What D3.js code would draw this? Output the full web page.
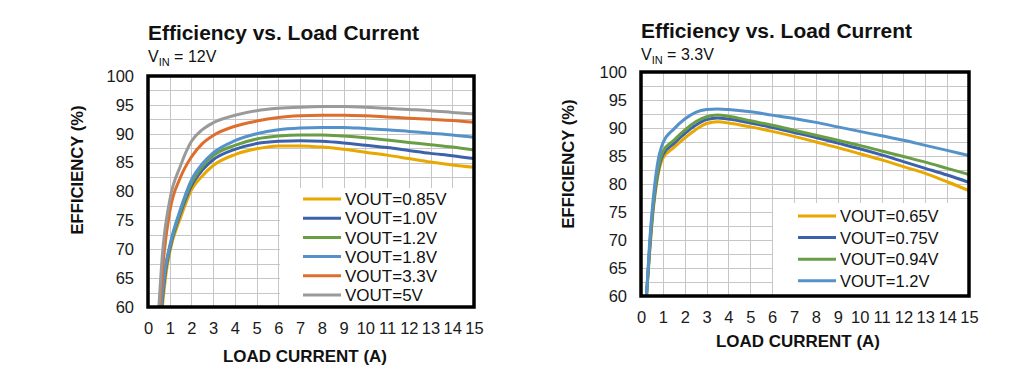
<!DOCTYPE html>
<html><head><meta charset="utf-8">
<script src="https://cdn.jsdelivr.net/npm/d3@7"></script>
<style>
html,body{margin:0;padding:0;background:#fff;}
svg{display:block;font-family:"Liberation Sans",Arial,sans-serif;}
</style></head>
<body>
<svg id="c" width="1023" height="386"></svg>
<script>
// ---------- DATA ----------
const xTicks = d3.range(0, 16, 1);
const yTicks = [60, 65, 70, 75, 80, 85, 90, 95, 100];

// Left chart, VIN = 12V
const leftNames = ["VOUT=0.85V", "VOUT=1.0V", "VOUT=1.2V", "VOUT=1.8V", "VOUT=3.3V", "VOUT=5V"];
const leftColors = ["#E8A800", "#3D62AC", "#6A9E45", "#5592CA", "#DE6E2E", "#9A9A9A"];
const leftCurrent = [1, 1.5, 2, 2.5, 3, 4, 5, 6, 7, 8, 9, 10, 11, 12, 13, 14, 15];
const leftStartI = [[0.66, 0.82], [0.63, 0.8], [0.6, 0.78], [0.6, 0.78], [0.55, 0.72], [0.5, 0.66]];
const leftStartV = [[60, 65.5], [60, 66], [60, 66.2], [60, 66.4], [60, 68.5], [60, 69]];
const eff12_085 = [69.5, 75.5, 80.3, 82.7, 84.5, 86.4, 87.4, 87.9, 87.9, 87.7, 87.3, 86.8, 86.3, 85.7, 85.1, 84.6, 84.2];
const eff12_100 = [70.0, 76.3, 81.0, 83.7, 85.5, 87.3, 88.3, 88.7, 88.8, 88.7, 88.4, 88.0, 87.6, 87.1, 86.6, 86.2, 85.7];
const eff12_120 = [70.3, 76.7, 81.5, 84.3, 86.2, 88.0, 89.1, 89.6, 89.8, 89.8, 89.6, 89.3, 88.9, 88.5, 88.1, 87.7, 87.2];
const eff12_180 = [70.6, 77.0, 82.0, 84.8, 86.7, 88.8, 90.0, 90.7, 91.0, 91.1, 91.1, 90.9, 90.7, 90.4, 90.1, 89.8, 89.4];
const eff12_330 = [76.5, 82.5, 86.0, 88.3, 89.7, 91.3, 92.2, 92.8, 93.1, 93.2, 93.2, 93.1, 92.9, 92.7, 92.5, 92.3, 92.0];
const eff12_500 = [78.5, 84.5, 88.7, 90.7, 91.9, 93.2, 94.0, 94.4, 94.6, 94.7, 94.7, 94.6, 94.4, 94.2, 94.0, 93.7, 93.4];

// Right chart, VIN = 3.3V
const rightNames = ["VOUT=0.65V", "VOUT=0.75V", "VOUT=0.94V", "VOUT=1.2V"];
const rightColors = ["#E8A800", "#3D62AC", "#6A9E45", "#5592CA"];
const rightCurrent = [0.25, 0.4, 0.55, 0.75, 1, 1.5, 2, 2.5, 3, 3.5, 4, 5, 6, 7, 8, 9, 10, 11, 12, 13, 14, 15];
const eff33_065 = [60, 68.0, 75.0, 81.0, 84.6, 86.5, 88.2, 89.7, 90.8, 91.1, 90.9, 90.2, 89.4, 88.5, 87.5, 86.5, 85.4, 84.3, 83.1, 81.9, 80.4, 78.8];
const eff33_075 = [60, 68.5, 75.5, 81.5, 85.2, 87.2, 89.0, 90.5, 91.5, 91.8, 91.6, 90.9, 90.1, 89.2, 88.3, 87.3, 86.3, 85.2, 84.0, 82.8, 81.6, 80.3];
const eff33_094 = [60, 69.0, 76.0, 82.0, 85.8, 87.8, 89.6, 91.1, 92.0, 92.3, 92.1, 91.3, 90.5, 89.6, 88.7, 87.8, 86.9, 85.9, 84.9, 83.9, 82.8, 81.7];
const eff33_120 = [60, 70.0, 77.0, 83.5, 87.3, 89.8, 91.6, 92.8, 93.3, 93.4, 93.3, 92.9, 92.3, 91.7, 91.0, 90.2, 89.4, 88.6, 87.8, 86.9, 86.0, 85.1];

// ---------- BUILD SERIES ----------
const leftEff = [eff12_085, eff12_100, eff12_120, eff12_180, eff12_330, eff12_500];
const leftSeries = leftEff.map((vals, k) => ({
  name: leftNames[k], color: leftColors[k],
  pts: leftStartI[k].map((x, j) => [x, leftStartV[k][j]]).concat(leftCurrent.map((x, j) => [x, vals[j]]))
}));
const rightEff = [eff33_065, eff33_075, eff33_094, eff33_120];
const rightSeries = rightEff.map((vals, k) => ({
  name: rightNames[k], color: rightColors[k],
  pts: rightCurrent.map((x, j) => [x, vals[j]])
}));

const svg = d3.select("#c");

function panel(cfg) {
  const g = svg.append("g");
  const x = d3.scaleLinear().domain([0, 15]).range([cfg.left, cfg.right]);
  const y = d3.scaleLinear().domain([60, 100]).range([cfg.bottom, cfg.top]);
  const w = cfg.right - cfg.left, h = cfg.bottom - cfg.top;

  // grid
  const grid = g.append("g").attr("stroke", "#c6c6c6").attr("stroke-width", 1);
  grid.selectAll("line.v").data(xTicks.slice(1, -1)).join("line")
    .attr("x1", d => Math.round(x(d)) + 0.5).attr("x2", d => Math.round(x(d)) + 0.5)
    .attr("y1", cfg.top).attr("y2", cfg.bottom);
  grid.selectAll("line.h").data(d3.range(62.5, 100, 2.5)).join("line")
    .attr("y1", d => Math.round(y(d)) + 0.5).attr("y2", d => Math.round(y(d)) + 0.5)
    .attr("x1", cfg.left).attr("x2", cfg.right);

  // legend box (white, no border)
  g.append("rect").attr("x", cfg.legX).attr("y", cfg.legY)
    .attr("width", cfg.right - cfg.legX).attr("height", cfg.bottom - cfg.legY).attr("fill", "#fff");

  // clip
  const cid = "clip" + cfg.id;
  svg.append("clipPath").attr("id", cid).append("rect")
    .attr("x", cfg.left).attr("y", cfg.top).attr("width", w).attr("height", h);

  const line = d3.line().x(d => x(d[0])).y(d => y(d[1])).curve(d3.curveMonotoneX);
  g.append("g").attr("clip-path", `url(#${cid})`)
    .selectAll("path").data(cfg.series).join("path")
    .attr("d", d => line(d.pts)).attr("fill", "none")
    .attr("stroke", d => d.color).attr("stroke-width", 3).attr("stroke-linejoin", "round");

  // border
  g.append("rect").attr("x", cfg.left).attr("y", cfg.top).attr("width", w).attr("height", h)
    .attr("fill", "none").attr("stroke", "#000").attr("stroke-width", 3.5);

  // axes (text only)
  const ya = d3.axisLeft(y).tickValues(yTicks).tickSize(0).tickPadding(cfg.left - cfg.yLabRight);
  const ygr = g.append("g").attr("transform", `translate(${cfg.left},0)`).call(ya);
  ygr.select(".domain").remove();
  ygr.selectAll("text").attr("font-size", 16.5).attr("fill", "#1a1a1a")
    .attr("font-family", "Liberation Sans, Arial, sans-serif");

  const xa = d3.axisBottom(x).tickValues(xTicks).tickSize(0).tickPadding(cfg.xLabPad);
  const xgr = g.append("g").attr("transform", `translate(0,${cfg.bottom})`).call(xa);
  xgr.select(".domain").remove();
  xgr.selectAll("text").attr("font-size", 16.5).attr("fill", "#1a1a1a")
    .attr("font-family", "Liberation Sans, Arial, sans-serif");

  // titles
  g.append("text").attr("x", cfg.left).attr("y", cfg.titleY)
    .attr("font-size", 19.5).attr("font-weight", "bold").attr("fill", "#111")
    .attr("textLength", 271).attr("lengthAdjust", "spacingAndGlyphs")
    .text("Efficiency vs. Load Current");
  const st = g.append("text").attr("x", cfg.left).attr("y", cfg.subY).attr("font-size", 16).attr("fill", "#111");
  st.append("tspan").text("V");
  st.append("tspan").attr("font-size", 11).attr("dy", 4).text("IN");
  st.append("tspan").attr("dy", -4).text(" = " + cfg.vin);

  g.append("text").attr("x", cfg.xTitleCX).attr("y", cfg.xTitleY)
    .attr("text-anchor", "middle").attr("font-size", 16.5).attr("font-weight", "bold").attr("fill", "#111")
    .attr("textLength", 164).attr("lengthAdjust", "spacingAndGlyphs")
    .text("LOAD CURRENT (A)");
  g.append("text").attr("transform", `translate(${cfg.yTitleX},${cfg.yTitleCY}) rotate(-90)`)
    .attr("text-anchor", "middle").attr("font-size", 16).attr("font-weight", "bold").attr("fill", "#111")
    .attr("textLength", 129).attr("lengthAdjust", "spacingAndGlyphs")
    .text("EFFICIENCY (%)");

  // legend
  const lg = g.append("g").selectAll("g").data(cfg.series).join("g")
    .attr("transform", (d, i) => `translate(${cfg.legLineX},${cfg.legRow0 + i * cfg.legStep})`);
  lg.append("line").attr("x1", 0).attr("x2", cfg.legLineW).attr("y1", 0).attr("y2", 0)
    .attr("stroke", d => d.color).attr("stroke-width", 3);
  lg.append("text").attr("x", cfg.legLineW + 4).attr("y", 0).attr("dy", "0.36em")
    .attr("font-size", cfg.legFont).attr("fill", "#111").text(d => d.name);
}

panel({
  id: "L", left: 148, right: 474, top: 76, bottom: 307,
  yLabRight: 134, xLabPad: 15, titleY: 40, subY: 62, vin: "12V",
  xTitleCX: 305, xTitleY: 362, yTitleX: 83, yTitleCY: 170,
  legX: 280, legY: 188, legLineX: 303, legLineW: 38, legRow0: 199, legStep: 19.2, legFont: 17,
  series: leftSeries
});
panel({
  id: "R", left: 641, right: 969, top: 72, bottom: 296,
  yLabRight: 627, xLabPad: 15, titleY: 38, subY: 60, vin: "3.3V",
  xTitleCX: 798, xTitleY: 347, yTitleX: 574, yTitleCY: 164,
  legX: 773, legY: 203, legLineX: 798, legLineW: 38, legRow0: 216, legStep: 21.6, legFont: 16.5,
  series: rightSeries
});
</script>
</body></html>
